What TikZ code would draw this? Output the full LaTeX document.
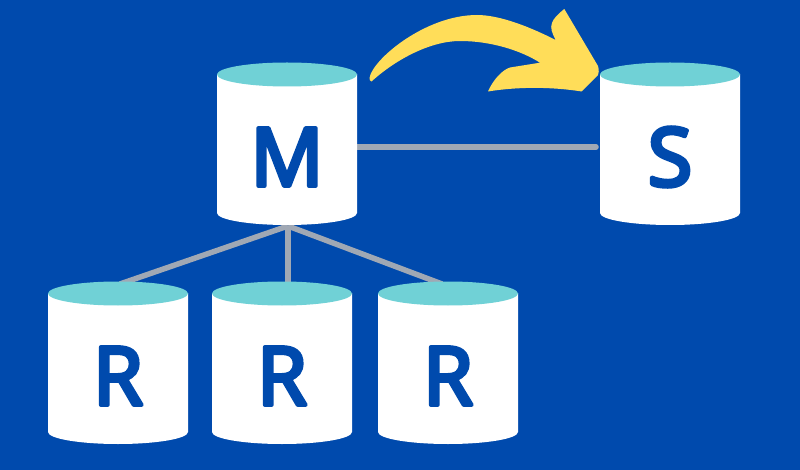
\documentclass[tikz,border=0pt]{standalone}
\usepackage{fontspec}
\newfontfamily\dbfont[FakeBold=5]{Open Sans}
\definecolor{bgblue}{HTML}{004AAD}
\definecolor{dbteal}{HTML}{70D1D6}
\definecolor{linkgrey}{HTML}{A0A8B4}
\definecolor{arrowyellow}{HTML}{FFDD59}
\tikzset{
  dbbox/.style={shape=rectangle,minimum width=140pt,minimum height=163pt,inner sep=0pt,outer sep=0pt},
  dbletter/.style={text=bgblue,inner sep=0pt,line join=round,font=\dbfont\fontsize{81pt}{81pt}\selectfont},
  linkline/.style={draw=linkgrey,line width=5.5pt},
}
% name, centre x, centre y of the whole cylinder, letter
\newcommand{\dbcyl}[4]{%
  \node[dbbox] (#1) at (#2,#3) {};
  \fill[white] (#1.north west) ++(0,12) -- ++(0,139) arc[start angle=180,end angle=360,x radius=70,y radius=-12] -- ++(0,-139) -- cycle;
  \fill[dbteal] (#2,#3) ++(0,-69) ellipse[x radius=70,y radius=12];
  \node[dbletter] (#1letter) at (#2,#3+13.5) {#4};
}
\begin{document}
\begin{tikzpicture}[x=1pt,y=-1pt]
\useasboundingbox (0,0) rectangle (800,470);
\fill[bgblue] (0,0) rectangle (800,470);
\coordinate (hub) at (288,226);
\coordinate (mout) at (356,147);
\coordinate (sin) at (596,147);
\coordinate (ra) at (120,284);
\coordinate (rb) at (288,284);
\coordinate (rc) at (442,284);
\draw[linkline] (hub) -- (ra);
\draw[linkline] (hub) -- (rb);
\draw[linkline] (hub) -- (rc);
\draw[linkline,line cap=round] (mout) -- (sin);
\dbcyl{m}{287}{143.5}{M}
\dbcyl{s}{670}{143.5}{S}
\dbcyl{ra1}{118}{362.5}{R}
\dbcyl{ra2}{282}{362.5}{R}
\dbcyl{ra3}{448}{362.5}{R}
\fill[arrowyellow,line join=round] (369.5,78) .. controls (372,60) and (425,15) .. (477,15)
  .. controls (500,15) and (530,27) .. (555.7,40)
  .. controls (552,33) and (550,28) .. (552,23)
  .. controls (553,19) and (558,14) .. (564.3,9)
  -- (598,66)
  .. controls (599,70) and (599,73) .. (598,75)
  -- (581.7,91.5)
  .. controls (560,88) and (525,85.5) .. (488,91.5)
  .. controls (493,80) and (502,70) .. (510,67.5)
  -- (540,62.7)
  .. controls (520,50) and (490,41) .. (460,41)
  .. controls (430,41) and (395,60) .. (371.5,81.5)
  .. controls (370,81) and (369.5,80) .. (369.5,78) -- cycle;
\end{tikzpicture}
\end{document}
